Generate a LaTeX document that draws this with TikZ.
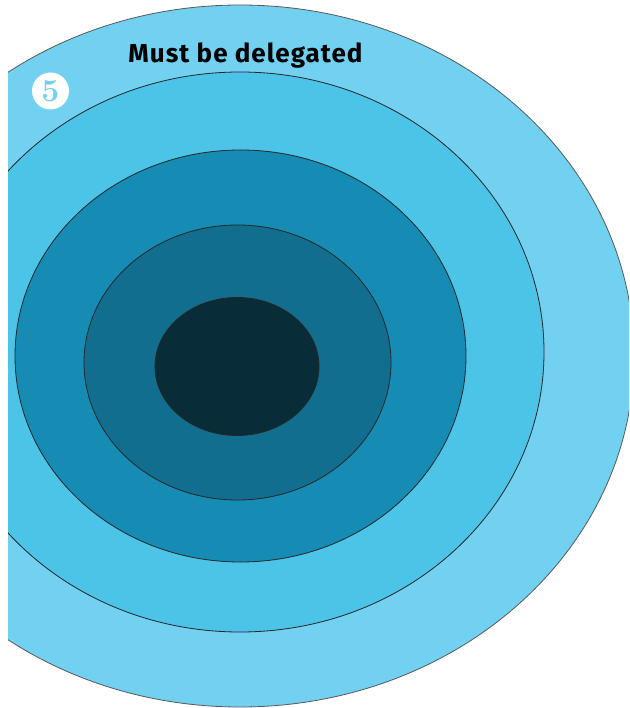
\documentclass[tikz,border=0pt]{standalone}
\usepackage{fontspec}
\setsansfont{Fira Sans}
\definecolor{ringa}{HTML}{72D0F0}
\definecolor{ringb}{HTML}{4BC4E8}
\definecolor{ringc}{HTML}{168CB4}
\definecolor{ringd}{HTML}{116E8E}
\definecolor{ringe}{HTML}{082C38}
\begin{document}
\begin{tikzpicture}[x=1pt,y=-1pt,line width=0.8pt]
\useasboundingbox (0,0) rectangle (629,708);
\begin{scope}
\clip (8,0) rectangle (629,708);
\draw [fill=ringa, draw=black!65] (240,356) ellipse [x radius=394, y radius=351];
\draw [fill=ringb, draw=black!85] (240,352) ellipse [x radius=304, y radius=280];
\draw [fill=ringc, draw=black!85] (240.5,356) ellipse [x radius=225.5, y radius=206];
\draw [fill=ringd, draw=black!85] (237.5,362.5) ellipse [x radius=153.5, y radius=137.5];
\draw [fill=ringe, draw=black!85] (237,366.5) ellipse [x radius=82, y radius=69];
\end{scope}
\node [anchor=base, inner sep=0pt, font=\sffamily\bfseries\fontsize{26}{30}\selectfont\addfontfeatures{LetterSpace=4}] (title) at (245.5,63) {Must be delegated};
\node [circle, fill=white, minimum size=37pt, inner sep=0pt, text=ringa, font=\bfseries\fontsize{32}{32}\selectfont] (five) at (50.5,91) {5};
\end{tikzpicture}
\end{document}
